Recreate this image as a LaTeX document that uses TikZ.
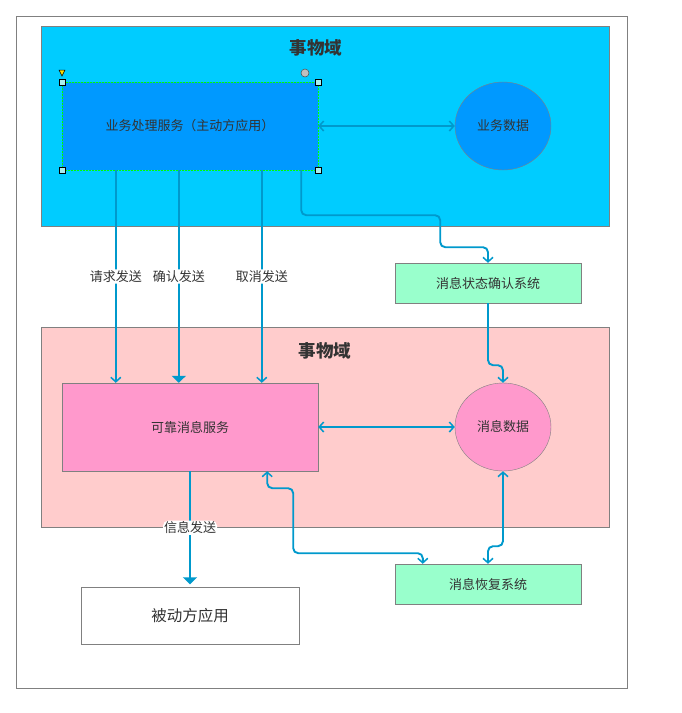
\documentclass[tikz,border=0pt]{standalone}
\usepackage{fontspec}
\setmainfont{Noto Sans CJK SC}
\usetikzlibrary{arrows.meta,shapes.geometric}
\definecolor{framegray}{HTML}{808080}
\definecolor{textgray}{HTML}{333333}
\definecolor{skyzone}{HTML}{00CCFF}
\definecolor{bizblue}{HTML}{0099FF}
\definecolor{pinkzone}{HTML}{FFCCCC}
\definecolor{msgpink}{HTML}{FF99CC}
\definecolor{mintbox}{HTML}{99FFCC}
\definecolor{linkblue}{HTML}{0099CC}
\definecolor{handlecyan}{HTML}{A8EEEE}

\begin{document}
\begin{tikzpicture}[x=1pt,y=-1pt,
    box/.style={draw=framegray,text=textgray,inner sep=0pt,font=\fontsize{13}{15}\selectfont},
    zone/.style={draw=framegray,line width=0.6pt},
    title/.style={text=textgray,font=\fontsize{17.5}{20}\selectfont\bfseries},
    link/.style={draw=linkblue,line width=1.9pt,rounded corners=5pt},
    tag/.style={fill=white,text=textgray,inner sep=1pt,font=\fontsize{13}{15}\selectfont},
    >={Straight Barb[length=4.5pt,width=10pt,line width=1.5pt]},
    bigtip/.style={-{Triangle[length=7pt,width=14pt]}},
    handle/.style={draw=black,fill=handlecyan,line width=0.6pt}
  ]
    \useasboundingbox (0,0) rectangle (681,713);
    \draw[framegray,line width=0.6pt] (16,16) rectangle (627,688);

    % upper zone
    \fill[skyzone] (41,26) rectangle (609,226);
    \draw[zone] (41,26) rectangle (609,226);
    \node[title] (toptitle) at (316,48) {事物域};

    \node[box,fill=bizblue,draw=green,dash pattern=on 2pt off 1pt,
          minimum width=256,minimum height=88] (biz) at (190,126) {业务处理服务（主动方应用）};
    \node[box,ellipse,fill=bizblue,minimum width=96,minimum height=88] (bizdata) at (503,126) {业务数据};

    % selection handles
    \foreach \c in {north west,north east,south west,south east}
        \draw[handle] ([xshift=-3pt,yshift=-3pt]biz.\c) rectangle ([xshift=3pt,yshift=3pt]biz.\c);
    \filldraw[draw=black,fill=yellow!80!orange,line width=0.5pt] (59,70) -- (65,70) -- (62,76) -- cycle;
    \filldraw[draw=black!70,fill=gray!50,line width=0.5pt] (305,73) circle (4);

    % lower zone
    \fill[pinkzone] (41,327) rectangle (609,527);
    \draw[zone] (41,327) rectangle (609,527);
    \node[title] (lowtitle) at (325,351) {事物域};

    \node[box,fill=msgpink,minimum width=256,minimum height=88] (rel) at (190,427) {可靠消息服务};
    \node[box,ellipse,fill=msgpink,minimum width=96,minimum height=88] (msgdata) at (503,427) {消息数据};

    \node[box,fill=mintbox,minimum width=186,minimum height=40] (confirm) at (488,283) {消息状态确认系统};
    \node[box,fill=mintbox,minimum width=186,minimum height=40] (recover) at (488,584) {消息恢复系统};
    \node[box,fill=white,minimum width=218,minimum height=57,
          font=\fontsize{15.5}{18}\selectfont] (passive) at (190,616) {被动方应用};

    % connectors
    \draw[link,<->] (biz.east) -- (bizdata.west);
    \draw[link,<->] (rel.east) -- (msgdata.west);

    \draw[link,->] ([xshift=54pt]biz.south west) -- ([xshift=54pt]rel.north west)
        node[tag,midway] {请求发送};
    \draw[link,bigtip] ([xshift=117pt]biz.south west) -- ([xshift=117pt]rel.north west)
        node[tag,midway] {确认发送};
    \draw[link,->] ([xshift=200pt]biz.south west) -- ([xshift=200pt]rel.north west)
        node[tag,midway] {取消发送};

    \draw[link,->] ([xshift=-17pt]biz.south east) -- ++(0,45) -- ++(139,0) -- ++(0,32) -| (confirm.north);
    \draw[link,->] (confirm.south) -- ++(0,62) -| (msgdata.north);

    \draw[link,bigtip] (rel.south) -- ([yshift=3pt]passive.north)
        node[tag,midway] {信息发送};

    \draw[link,<->] ([xshift=-51pt]rel.south east) -- ++(0,17) -- ++(26,0) -- ++(0,65) -| ([xshift=28pt]recover.north west);
    \draw[link,<->] (msgdata.south) -- ++(0,75) -| (recover.north);
\end{tikzpicture}
\end{document}
